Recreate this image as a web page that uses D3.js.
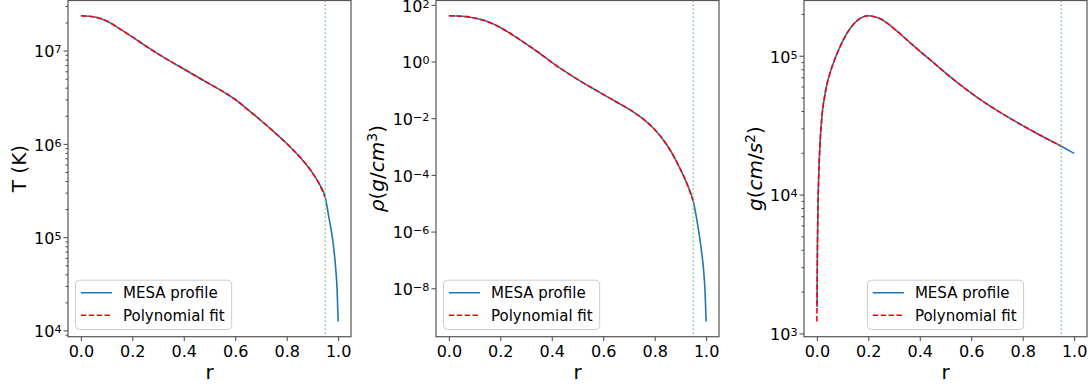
<!DOCTYPE html>
<html>
<head>
<meta charset="utf-8">
<script src="https://cdnjs.cloudflare.com/ajax/libs/d3/7.8.5/d3.min.js"></script>
<style>
  body { margin: 0; background: #fff; }
  svg { font-family: "DejaVu Sans", sans-serif; }
</style>
</head>
<body>
<script>
// radius grid (r / R) used for the temperature and density readings
const rGrid = [0, 0.05, 0.1, 0.15, 0.2, 0.25, 0.3, 0.35, 0.4, 0.45, 0.5, 0.55, 0.6,
    0.65, 0.7, 0.75, 0.8, 0.85, 0.9, 0.925, 0.95, 0.965, 0.98, 0.99, 0.996, 1.0];

// T (K), MESA profile
const temperature = [2.36e7, 2.30e7, 2.08e7, 1.72e7, 1.40e7, 1.13e7, 9.23e6, 7.62e6,
    6.35e6, 5.28e6, 4.40e6, 3.67e6, 2.99e6, 2.32e6, 1.78e6, 1.35e6, 1.01e6, 7.28e5,
    4.90e5, 3.80e5, 2.66e5, 1.58e5, 8.9e4, 4.8e4, 2.75e4, 1.25e4];

// rho (g/cm^3), MESA profile
const density = [41.1, 39.8, 34.3, 25.7, 15.8, 8.41, 4.22, 2.04, 0.933, 0.457, 0.234,
    0.126, 0.0692, 0.0380, 0.0209, 0.0102, 3.98e-3, 1.05e-3, 1.58e-4, 5.0e-5, 1.17e-5,
    2.24e-6, 2.82e-7, 4.47e-8, 7.08e-9, 6.76e-10];

// gravity needs a finer grid near the centre
const rGravity = [0.0008, 0.002, 0.004, 0.007, 0.012, 0.02, 0.03, 0.04, 0.05, 0.075,
    0.1, 0.13, 0.16, 0.2, 0.25, 0.3, 0.35, 0.4, 0.45, 0.5, 0.55, 0.6, 0.65, 0.7, 0.75,
    0.8, 0.85, 0.9, 0.95, 1.0];
const gravity = [1.55e3, 3.8e3, 7.6e3, 1.32e4, 2.26e4, 3.72e4, 5.07e4, 6.31e4, 7.38e4,
    1.0e5, 1.27e5, 1.58e5, 1.81e5, 1.94e5, 1.83e5, 1.57e5, 1.30e5, 1.08e5, 9.02e4,
    7.52e4, 6.32e4, 5.38e4, 4.63e4, 4.04e4, 3.55e4, 3.14e4, 2.79e4, 2.49e4, 2.23e4,
    1.98e4];

// polynomial fit: follows the profile up to the cut, differs only at r = 0 for g
const fitEdge = 0.95;
const gravityFitCentre = 1220;

const xTicks = [0, 0.2, 0.4, 0.6, 0.8, 1.0];
const tempTicks = [1e4, 1e5, 1e6, 1e7];
const densityTicks = [1e-8, 1e-6, 1e-4, 1e-2, 1e0, 1e2];
const gravityTicks = [1e3, 1e4, 1e5];
const legendLabels = ["MESA profile", "Polynomial fit"];

const width = 1092;
const height = 387;
const plotTop = 0.5;
const plotW = 283;
const plotH = 336.2;

const svg = d3.select("body")
    .append("svg")
    .attr("width", width)
    .attr("height", height);

function pairs(rs, vs) {
    return rs.map((r, i) => [r, vs[i]]);
}

function exponentText(v) {
    const n = Math.round(Math.log10(v));
    return n < 0 ? "\u2212" + (-n) : String(n);
}

function drawPanel(p) {
    const g = svg.append("g")
        .attr("transform", `translate(${p.left},${plotTop})`);

    const x = d3.scaleLinear().domain([-0.05, 1.05]).range([0, plotW]);

    // log-space 5% margins, like matplotlib autoscale
    const logs = p.profile.concat(p.fit).map(d => Math.log10(d[1]));
    const lo = d3.min(logs), hi = d3.max(logs), pad = (hi - lo) * 0.05;
    const y = d3.scaleLog()
        .domain([Math.pow(10, lo - pad), Math.pow(10, hi + pad)])
        .range([plotH, 0]);

    const line = d3.line()
        .x(d => x(d[0]))
        .y(d => y(d[1]))
        .curve(d3.curveMonotoneX);

    g.append("path")
        .datum(p.profile)
        .attr("d", line)
        .attr("fill", "none")
        .attr("stroke", "#1f77b4")
        .attr("stroke-width", 1.6);

    g.append("path")
        .datum(p.fit)
        .attr("d", line)
        .attr("fill", "none")
        .attr("stroke", "#ff0000")
        .attr("stroke-width", 1.6)
        .attr("stroke-dasharray", "5.5,2.4");

    g.append("line")
        .attr("x1", x(fitEdge)).attr("x2", x(fitEdge))
        .attr("y1", 0).attr("y2", plotH)
        .attr("stroke", "#86cc86")
        .attr("stroke-width", 1.5)
        .attr("stroke-dasharray", "1.5,2.5");

    // x axis
    const xAxis = g.append("g")
        .attr("transform", `translate(0,${plotH})`)
        .call(d3.axisBottom(x).tickValues(xTicks).tickFormat(d3.format(".1f"))
            .tickSize(4.5).tickPadding(4));
    xAxis.select(".domain").remove();

    // minor ticks on the log axis (not for the 2-decade axis)
    if (p.minor) {
        const [d0, d1] = y.domain();
        const minors = [];
        for (let e = Math.floor(Math.log10(d0)); e <= Math.ceil(Math.log10(d1)); e++) {
            for (let m = 2; m <= 9; m++) {
                const v = m * Math.pow(10, e);
                if (v >= d0 && v <= d1) minors.push(v);
            }
        }
        const minorAxis = g.append("g")
            .call(d3.axisLeft(y).tickValues(minors).tickFormat("").tickSize(2.5));
        minorAxis.select(".domain").remove();
    }

    const yAxis = g.append("g")
        .call(d3.axisLeft(y).tickValues(p.majors).tickFormat("").tickSize(4.5).tickPadding(2));
    yAxis.select(".domain").remove();
    yAxis.selectAll(".tick text").each(function(d) {
        const t = d3.select(this).attr("dy", "0.4em");
        t.append("tspan").text("10");
        t.append("tspan").attr("dy", -4).attr("font-size", 11.2).text(exponentText(d));
    });

    [xAxis, yAxis].forEach(a => a.attr("font-family", null).attr("font-size", 16));
    g.selectAll(".tick line").attr("stroke", "#444").attr("stroke-width", 1);
    g.selectAll(".tick text").attr("fill", "#000");

    // frame
    g.append("rect")
        .attr("width", plotW).attr("height", plotH)
        .attr("fill", "none")
        .attr("stroke", "#555")
        .attr("stroke-width", 1.2);

    // axis labels
    g.append("text")
        .attr("x", plotW / 2)
        .attr("y", plotH + 42)
        .attr("text-anchor", "middle")
        .attr("font-size", 20)
        .text("r");

    const tb = yAxis.node().getBBox();
    const yl = g.append("text")
        .attr("transform", `translate(${tb.x - 8.3},${plotH / 2}) rotate(-90)`)
        .attr("text-anchor", "middle")
        .attr("font-size", 20);
    p.ylabel.forEach(part => {
        const s = yl.append("tspan").text(part.t);
        if (part.i) s.attr("font-style", "italic");
        if (part.sup) s.attr("font-size", 14).attr("dy", -7);
        if (part.down) s.attr("dy", 7);
    });

    // legend
    const leg = g.append("g");
    const frame = leg.append("rect")
        .attr("rx", 4)
        .attr("fill", "#fff").attr("fill-opacity", 0.8)
        .attr("stroke", "#ccc").attr("stroke-width", 1);
    const rows = [
        { stroke: "#1f77b4", dash: null },
        { stroke: "#ff0000", dash: "5.5,2.4" }
    ];
    let textW = 0;
    legendLabels.forEach((lab, i) => {
        const cy = 12.6 + i * 22.4;
        leg.append("line")
            .attr("x1", 5.3).attr("x2", 36.6)
            .attr("y1", cy).attr("y2", cy)
            .attr("stroke", rows[i].stroke)
            .attr("stroke-width", 1.6)
            .attr("stroke-dasharray", rows[i].dash);
        const t = leg.append("text")
            .attr("x", 47.5).attr("y", cy + 5.4)
            .attr("font-size", 15)
            .text(lab);
        textW = Math.max(textW, t.node().getComputedTextLength());
    });
    const fw = 47.5 + textW + 7;
    frame.attr("width", fw).attr("height", 49.3);
    const lx = p.legendCentre ? (plotW - fw) / 2 : 7.5;
    leg.attr("transform", `translate(${lx},${280.2 - plotTop})`);
}

drawPanel({
    left: 68,
    profile: pairs(rGrid, temperature),
    fit: pairs(rGrid, temperature).filter(d => d[0] <= fitEdge),
    majors: tempTicks,
    minor: true,
    ylabel: [{ t: "T (K)" }]
});

drawPanel({
    left: 436,
    profile: pairs(rGrid, density),
    fit: pairs(rGrid, density).filter(d => d[0] <= fitEdge),
    majors: densityTicks,
    minor: false,
    ylabel: [{ t: "\u03c1", i: true }, { t: "(" }, { t: "g", i: true }, { t: "/" },
        { t: "cm", i: true }, { t: "3", sup: true }, { t: ")", down: true }]
});

drawPanel({
    left: 804,
    profile: pairs(rGravity, gravity),
    fit: [[0, gravityFitCentre]].concat(pairs(rGravity, gravity).filter(d => d[0] > 0.001 && d[0] <= fitEdge)),
    majors: gravityTicks,
    minor: true,
    legendCentre: true,
    ylabel: [{ t: "g", i: true }, { t: "(" }, { t: "cm", i: true }, { t: "/" },
        { t: "s", i: true }, { t: "2", sup: true }, { t: ")", down: true }]
});
</script>
</body>
</html>
